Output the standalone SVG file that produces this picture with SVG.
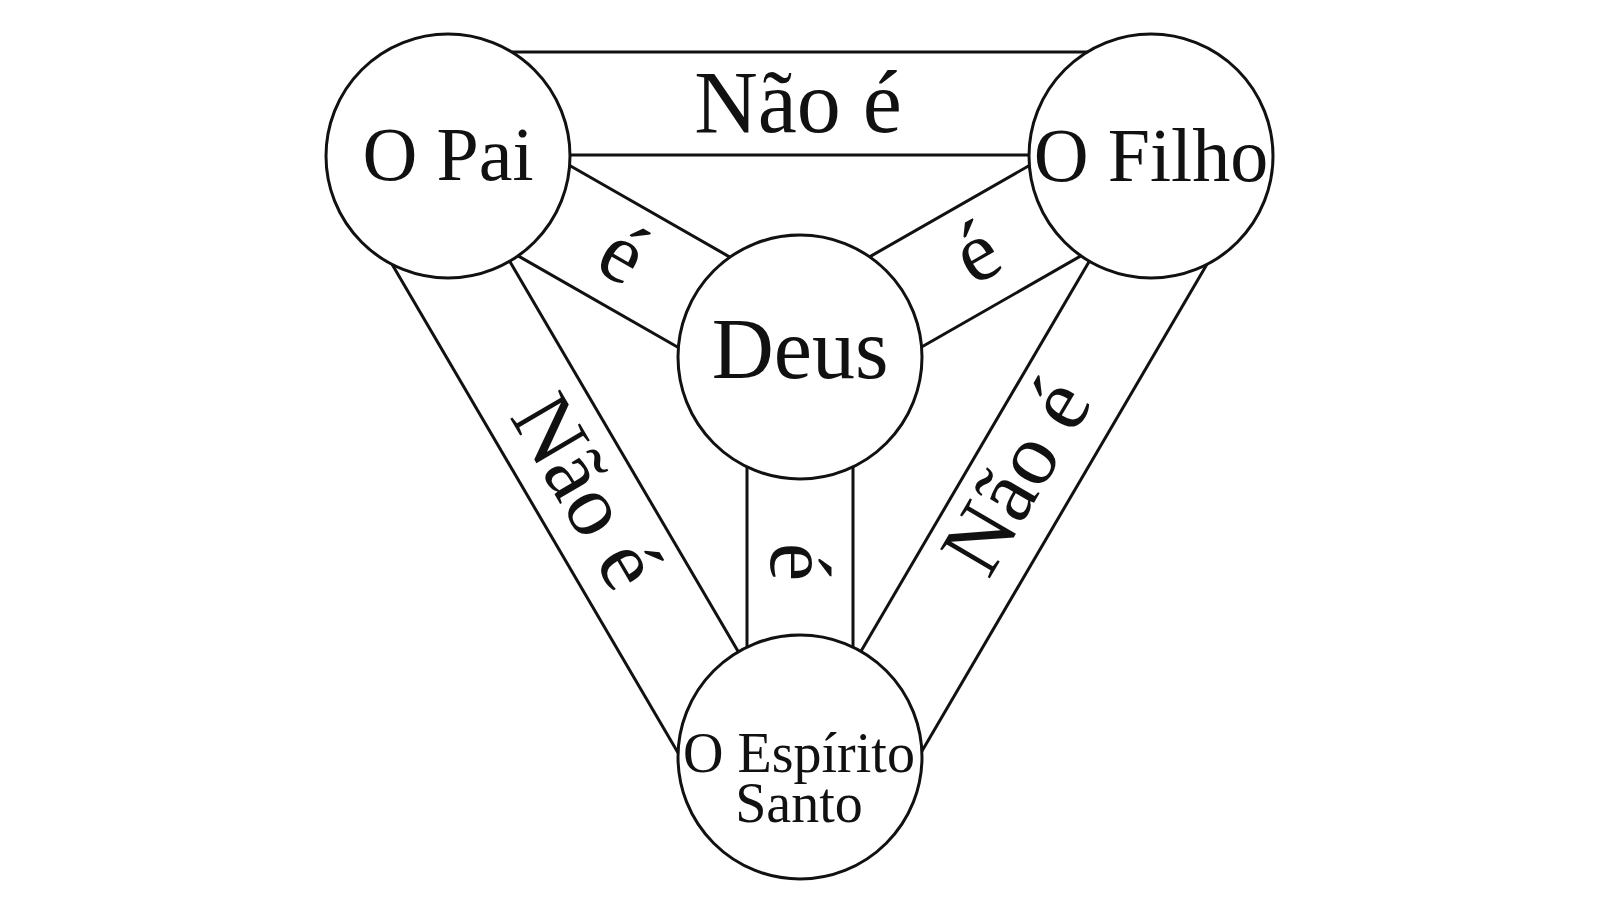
<svg xmlns="http://www.w3.org/2000/svg" width="1600" height="900" viewBox="0 0 1600 900">
  <style>
    .edge { stroke: #111; stroke-width: 3; fill: none; stroke-linecap: butt; }
    .node { fill: #fff; stroke: #111; stroke-width: 3; }
    text { font-family: "Liberation Serif", "Times New Roman", serif; fill: #111; text-anchor: middle; }
    .lbl { font-size: 88px; }
    .small { font-size: 86px; }
  </style>
  <rect x="0" y="0" width="1600" height="900" fill="#fff"/>
  <g id="connectors">
    <g id="pai-filho">
      <line class="edge" x1="512" y1="52" x2="1088" y2="52"/>
      <line class="edge" x1="569" y1="155" x2="1030" y2="155"/>
      <text class="lbl" x="798" y="132">Não é</text>
    </g>
    <g id="pai-deus">
      <line class="edge" x1="569.7" y1="165.5" x2="729.9" y2="257.1"/>
      <line class="edge" x1="518.1" y1="255.9" x2="678.3" y2="347.5"/>
      <text class="small" transform="translate(609,278) rotate(29.7)">é</text>
    </g>
    <g id="filho-deus">
      <line class="edge" x1="1029.3" y1="165.5" x2="869.1" y2="257.1"/>
      <line class="edge" x1="1080.9" y1="255.9" x2="920.7" y2="347.5"/>
      <text class="small" transform="translate(990,277) rotate(-29.7)">é</text>
    </g>
    <g id="deus-espirito">
      <line class="edge" x1="747" y1="466.9" x2="747" y2="647.1"/>
      <line class="edge" x1="853" y1="466.9" x2="853" y2="647.1"/>
      <text class="small" transform="translate(771,562) rotate(90)">é</text>
    </g>
    <g id="pai-espirito">
      <line class="edge" x1="509.7" y1="261.3" x2="738.3" y2="651.7"/>
      <line class="edge" x1="392.2" y1="264.5" x2="678" y2="752.7"/>
      <text class="lbl" transform="translate(561.5,506) rotate(59.6)">Não é</text>
    </g>
    <g id="filho-espirito">
      <line class="edge" x1="1089.3" y1="261.3" x2="860.7" y2="651.7"/>
      <line class="edge" x1="1206.8" y1="264.5" x2="921" y2="752.7"/>
      <text class="lbl" transform="translate(1041,491) rotate(-59.6)">Não é</text>
    </g>
  </g>
  <g id="node-pai">
    <circle class="node" cx="448" cy="156" r="122"/>
    <text x="448" y="180" font-size="76">O Pai</text>
  </g>
  <g id="node-filho">
    <circle class="node" cx="1151" cy="156" r="122"/>
    <text x="1151" y="181" font-size="76">O Filho</text>
  </g>
  <g id="node-deus">
    <circle class="node" cx="800" cy="357" r="122"/>
    <text x="800" y="378" font-size="86">Deus</text>
  </g>
  <g id="node-espirito">
    <circle class="node" cx="800" cy="757" r="122"/>
    <text x="799" y="772" font-size="56">O Espírito</text>
    <text x="799" y="822" font-size="56">Santo</text>
  </g>
</svg>
